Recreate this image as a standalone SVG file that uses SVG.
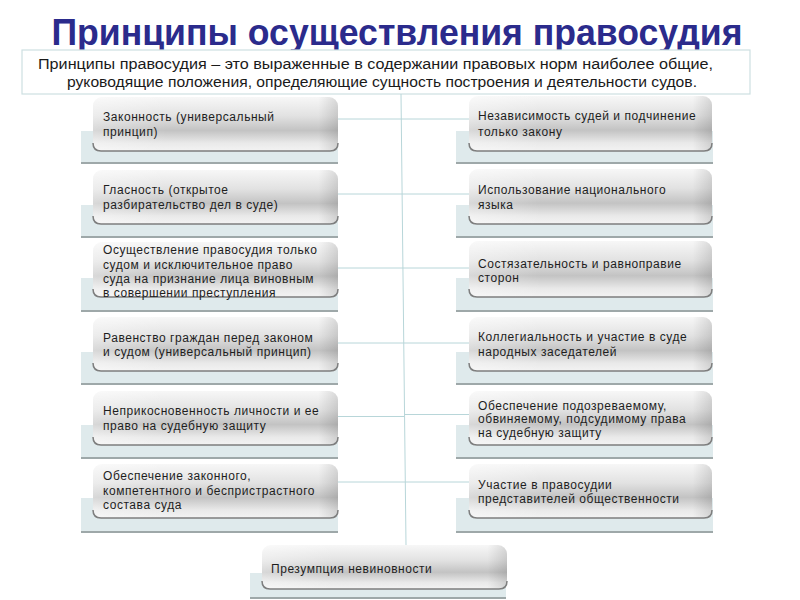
<svg xmlns="http://www.w3.org/2000/svg" width="800" height="600" viewBox="0 0 800 600">
<defs>
<linearGradient id="gv" x1="0" y1="0" x2="0" y2="1">
<stop offset="0" stop-color="#f7f7f7"/>
<stop offset="0.35" stop-color="#e2e2e2"/>
<stop offset="0.62" stop-color="#c3c3c3"/>
<stop offset="0.85" stop-color="#e9e9e9"/>
<stop offset="1" stop-color="#f3f3f3"/>
</linearGradient>
<linearGradient id="gh" x1="0" y1="0" x2="1" y2="0">
<stop offset="0" stop-color="#ffffff" stop-opacity="0.35"/>
<stop offset="0.3" stop-color="#ffffff" stop-opacity="0"/>
<stop offset="0.92" stop-color="#000000" stop-opacity="0"/>
<stop offset="1" stop-color="#000000" stop-opacity="0.12"/>
</linearGradient>
</defs>
<style>
.title{font-family:"Liberation Sans",Arial,sans-serif;font-weight:bold;font-size:36px;fill:#2b2b8c}
.def{font-family:"Liberation Sans",Arial,sans-serif;font-size:14px;fill:#1a1a1a}
.t{font-family:"Liberation Sans",Arial,sans-serif;font-size:12px;letter-spacing:0.55px;fill:#1e1e1e}
.back{fill:#dfeaec;stroke:none}
.backline{stroke:#9ea8a9;stroke-width:2;fill:none}
.front{fill:url(#gv)}
.shade{fill:url(#gh)}
.edge{fill:none;stroke:#7e7e7e;stroke-width:1.5}
.con{stroke:#b8d6d9;stroke-width:1;fill:none}
.defbox{fill:#ffffff;stroke:#cddfe2;stroke-width:1.2}
</style>
<rect width="800" height="600" fill="#ffffff"/>
<text class="title" x="397" y="45" text-anchor="middle" textLength="691" lengthAdjust="spacingAndGlyphs">Принципы осуществления правосудия</text>
<g id="definition">
<rect class="defbox" x="22" y="50" width="728" height="44"/>
<text class="def" x="38" y="69" textLength="675" lengthAdjust="spacingAndGlyphs">Принципы правосудия – это выраженные в содержании правовых норм наиболее общие,</text>
<text class="def" x="67" y="87" textLength="630" lengthAdjust="spacingAndGlyphs">руководящие положения, определяющие сущность построения и деятельности судов.</text>
</g>
<g id="connectors">
<line class="con" x1="401" y1="94" x2="406" y2="545"/>
<line class="con" x1="338" y1="119" x2="401" y2="119"/>
<line class="con" x1="401" y1="119" x2="469" y2="119"/>
<line class="con" x1="338" y1="194" x2="402" y2="194"/>
<line class="con" x1="402" y1="194" x2="469" y2="194"/>
<line class="con" x1="338" y1="268" x2="403" y2="268"/>
<line class="con" x1="403" y1="268" x2="469" y2="268"/>
<line class="con" x1="338" y1="343" x2="404" y2="343"/>
<line class="con" x1="404" y1="343" x2="469" y2="343"/>
<line class="con" x1="338" y1="416.5" x2="404.5" y2="416.5"/>
<line class="con" x1="404.5" y1="414.5" x2="469" y2="414.5"/>
<line class="con" x1="338" y1="482" x2="405" y2="482"/>
<line class="con" x1="405" y1="482" x2="469" y2="482"/>
</g>
<!-- Left column -->
<g id="n-zakonnost">
<rect class="back" x="81" y="131" width="257" height="32"/><line class="backline" x1="81" y1="163" x2="338" y2="163"/>
<rect class="front" x="93" y="97" width="245" height="54" rx="9"/><rect class="shade" x="93" y="97" width="245" height="54" rx="9"/>
<path class="edge" d="M93,143 Q93,151 101,151 H330 Q338,151 338,143"/>
<text class="t" x="103" y="121">Законность (универсальный</text>
<text class="t" x="103" y="136">принцип)</text>
</g>
<g id="n-glasnost">
<rect class="back" x="81" y="205" width="257" height="32"/><line class="backline" x1="81" y1="237" x2="338" y2="237"/>
<rect class="front" x="93" y="170" width="245" height="54" rx="9"/><rect class="shade" x="93" y="170" width="245" height="54" rx="9"/>
<path class="edge" d="M93,216 Q93,224 101,224 H330 Q338,224 338,216"/>
<text class="t" x="103" y="194">Гласность (открытое</text>
<text class="t" x="103" y="209">разбирательство дел в суде)</text>
</g>
<g id="n-osushchestvlenie">
<rect class="back" x="81" y="278" width="257" height="33"/><line class="backline" x1="81" y1="311" x2="338" y2="311"/>
<rect class="front" x="93" y="242" width="245" height="55" rx="9"/><rect class="shade" x="93" y="242" width="245" height="55" rx="9"/>
<path class="edge" d="M93,289 Q93,297 101,297 H330 Q338,297 338,289"/>
<text class="t" x="103" y="254">Осуществление правосудия только</text>
<text class="t" x="103" y="268.5">судом и исключительное право</text>
<text class="t" x="103" y="282.5">суда на признание лица виновным</text>
<text class="t" x="103" y="296.5">в совершении преступления</text>
</g>
<g id="n-ravenstvo">
<rect class="back" x="81" y="352" width="257" height="32"/><line class="backline" x1="81" y1="384" x2="338" y2="384"/>
<rect class="front" x="93" y="317" width="245" height="54" rx="9"/><rect class="shade" x="93" y="317" width="245" height="54" rx="9"/>
<path class="edge" d="M93,363 Q93,371 101,371 H330 Q338,371 338,363"/>
<text class="t" x="103" y="342">Равенство граждан перед законом</text>
<text class="t" x="103" y="356">и судом (универсальный принцип)</text>
</g>
<g id="n-neprikosnovennost">
<rect class="back" x="81" y="425" width="257" height="33"/><line class="backline" x1="81" y1="458" x2="338" y2="458"/>
<rect class="front" x="93" y="391" width="245" height="54" rx="9"/><rect class="shade" x="93" y="391" width="245" height="54" rx="9"/>
<path class="edge" d="M93,437 Q93,445 101,445 H330 Q338,445 338,437"/>
<text class="t" x="103" y="415">Неприкосновенность личности и ее</text>
<text class="t" x="103" y="430">право на судебную защиту</text>
</g>
<g id="n-sostav">
<rect class="back" x="81" y="498" width="257" height="34"/><line class="backline" x1="81" y1="532" x2="338" y2="532"/>
<rect class="front" x="93" y="464" width="245" height="54" rx="9"/><rect class="shade" x="93" y="464" width="245" height="54" rx="9"/>
<path class="edge" d="M93,510 Q93,518 101,518 H330 Q338,518 338,510"/>
<text class="t" x="103" y="480">Обеспечение законного,</text>
<text class="t" x="103" y="494.5">компетентного и беспристрастного</text>
<text class="t" x="103" y="509">состава суда</text>
</g>
<!-- Right column -->
<g id="n-nezavisimost">
<rect class="back" x="456" y="131" width="257" height="32"/><line class="backline" x1="456" y1="163" x2="713" y2="163"/>
<rect class="front" x="469" y="96" width="243" height="55" rx="9"/><rect class="shade" x="469" y="96" width="243" height="55" rx="9"/>
<path class="edge" d="M469,143 Q469,151 477,151 H704 Q712,151 712,143"/>
<text class="t" x="478" y="120">Независимость судей и подчинение</text>
<text class="t" x="478" y="136">только закону</text>
</g>
<g id="n-yazyk">
<rect class="back" x="456" y="205" width="257" height="32"/><line class="backline" x1="456" y1="237" x2="713" y2="237"/>
<rect class="front" x="469" y="169" width="243" height="55" rx="9"/><rect class="shade" x="469" y="169" width="243" height="55" rx="9"/>
<path class="edge" d="M469,216 Q469,224 477,224 H704 Q712,224 712,216"/>
<text class="t" x="478" y="194">Использование национального</text>
<text class="t" x="478" y="209">языка</text>
</g>
<g id="n-sostyazatelnost">
<rect class="back" x="456" y="278" width="257" height="33"/><line class="backline" x1="456" y1="311" x2="713" y2="311"/>
<rect class="front" x="469" y="241" width="243" height="56" rx="9"/><rect class="shade" x="469" y="241" width="243" height="56" rx="9"/>
<path class="edge" d="M469,289 Q469,297 477,297 H704 Q712,297 712,289"/>
<text class="t" x="478" y="267.5">Состязательность и равноправие</text>
<text class="t" x="478" y="282">сторон</text>
</g>
<g id="n-kollegialnost">
<rect class="back" x="456" y="352" width="257" height="32"/><line class="backline" x1="456" y1="384" x2="713" y2="384"/>
<rect class="front" x="469" y="317" width="243" height="54" rx="9"/><rect class="shade" x="469" y="317" width="243" height="54" rx="9"/>
<path class="edge" d="M469,363 Q469,371 477,371 H704 Q712,371 712,363"/>
<text class="t" x="478" y="341">Коллегиальность и участие в суде</text>
<text class="t" x="478" y="355.5">народных заседателей</text>
</g>
<g id="n-zashchita">
<rect class="back" x="456" y="425" width="257" height="33"/><line class="backline" x1="456" y1="458" x2="713" y2="458"/>
<rect class="front" x="469" y="391" width="243" height="54" rx="9"/><rect class="shade" x="469" y="391" width="243" height="54" rx="9"/>
<path class="edge" d="M469,437 Q469,445 477,445 H704 Q712,445 712,437"/>
<text class="t" x="478" y="409.5">Обеспечение подозреваемому,</text>
<text class="t" x="478" y="423">обвиняемому, подсудимому права</text>
<text class="t" x="478" y="436.5">на судебную защиту</text>
</g>
<g id="n-uchastie">
<rect class="back" x="456" y="498" width="257" height="34"/><line class="backline" x1="456" y1="532" x2="713" y2="532"/>
<rect class="front" x="469" y="464" width="243" height="54" rx="9"/><rect class="shade" x="469" y="464" width="243" height="54" rx="9"/>
<path class="edge" d="M469,510 Q469,518 477,518 H704 Q712,518 712,510"/>
<text class="t" x="478" y="488.5">Участие в правосудии</text>
<text class="t" x="478" y="502.5">представителей общественности</text>
</g>
<!-- Bottom -->
<g id="n-prezumpciya">
<rect class="back" x="250" y="573" width="256" height="25"/><line class="backline" x1="250" y1="598" x2="506" y2="598"/>
<rect class="front" x="262" y="545" width="245" height="44" rx="9"/><rect class="shade" x="262" y="545" width="245" height="44" rx="9"/>
<path class="edge" d="M262,581 Q262,589 270,589 H499 Q507,589 507,581"/>
<text class="t" x="271" y="572.5">Презумпция невиновности</text>
</g>
</svg>
